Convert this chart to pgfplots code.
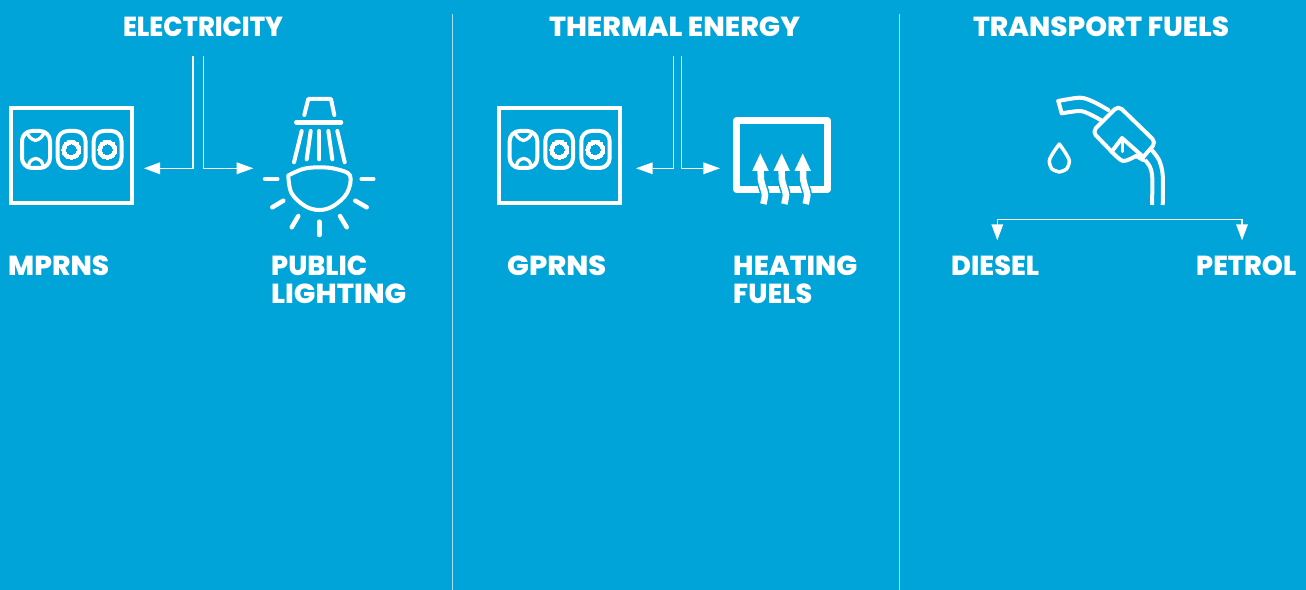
\documentclass[border=0pt]{standalone}
\usepackage{pgfplots}
\pgfplotsset{compat=1.18}
\usepackage{graphicx}
\usepackage{fontspec}
\setmainfont{Poppins}[BoldFont={Poppins ExtraBold}]
\definecolor{bg}{HTML}{00A4D8}
\definecolor{rule}{HTML}{A6DDF0}
\pgfplotsset{
  ln/.style={white,line width=#1,no markers,line cap=round,line join=round},
  ln/.default=4bp,
  hair/.style={white,line width=1.2bp,no markers,line cap=butt,line join=miter},
  solid fill/.style={fill=white,draw=none,no markers}
}
\newcommand{\lab}[4]{\node[anchor=base west,inner sep=0pt,text=white,font=\fontsize{27.5bp}{27.5bp}\selectfont\bfseries] at (axis cs:#1,#2) {\resizebox{#3bp}{\height}{#4}};}
\newcommand{\tit}[4]{\node[anchor=base,inner sep=0pt,text=white,font=\fontsize{27.5bp}{27.5bp}\selectfont\bfseries] at (axis cs:#1,#2) {\resizebox{#3bp}{\height}{#4}};}
\begin{document}
\begin{tikzpicture}
\begin{axis}[
  hide axis, scale only axis, width=1306bp, height=590bp,
  xmin=0, xmax=1306, ymin=0, ymax=590, y dir=reverse]
% background
\addplot[fill=bg,draw=none,no markers] coordinates {(0,0)(1306,0)(1306,590)(0,590)} -- cycle;
% dividers
\addplot[rule,line width=1bp,no markers] coordinates {(452.5,14)(452.5,590)};
\addplot[rule,line width=1bp,no markers] coordinates {(899.5,14)(899.5,590)};
% --- outlet 1
\addplot[white,line width=4bp,no markers,line join=miter] coordinates {(11,108.5)(132,108.5)(132,203)(11,203)} -- cycle;
\addplot[ln=4bp,rounded corners=10bp] coordinates {(22,131)(50,131)(50,168)(22,168)} -- cycle;
\addplot[ln=4bp,rounded corners=10bp] coordinates {(57.7,131)(85.5,131)(85.5,168)(57.7,168)} -- cycle;
\addplot[ln=4bp,rounded corners=10bp] coordinates {(93.7,131)(121.5,131)(121.5,168)(93.7,168)} -- cycle;
\addplot[white,only marks,mark=*,mark size=9.5bp,mark options={fill=white,draw=white,line width=0pt}] coordinates {(71.3,149.7)(107.3,149.7)};
\addplot[bg,only marks,mark=*,mark size=5bp,mark options={fill=bg,draw=bg,line width=0pt}] coordinates {(71.3,149.7)(107.3,149.7)};
\addplot[ln=3.3bp,smooth] coordinates {(27,133)(30,137.5)(35.5,140.5)(41,137.5)(44,133)};
\addplot[ln=3.3bp,smooth] coordinates {(28,167)(30.5,161)(35.7,158.5)(41,161)(43.5,167)};
% arrows 1
\addplot[hair] coordinates {(193,56)(193,168.3)(160,168.3)};
\addplot[solid fill] coordinates {(144,168.3)(160,162.3)(160,174.3)} -- cycle;
\addplot[hair] coordinates {(203.7,56)(203.7,168.3)(237,168.3)};
\addplot[solid fill] coordinates {(253.3,168.3)(236.7,162.3)(236.7,174.3)} -- cycle;
% --- bulb
\addplot[ln=4bp] coordinates {(304.3,115)(308.3,99)(331,99)(334.3,115)};
\addplot[ln=4.5bp] coordinates {(296.3,122.3)(341,122.3)};
\addplot[ln=4bp] coordinates {(301.7,131)(294,162.3)};
\addplot[ln=4bp] coordinates {(310.7,131)(306.7,159.3)};
\addplot[ln=4bp] coordinates {(319.3,131)(319.3,159.3)};
\addplot[ln=4bp] coordinates {(328.3,131)(332.3,159.3)};
\addplot[ln=4bp] coordinates {(337.3,131)(344.7,162.3)};
\addplot[ln=4bp,smooth,tension=0.6] coordinates {(288.3,175.5)(303,169)(319.3,167.3)(336,169)(350,175.5)(347,193)(333.3,206)(319.3,210)(305,206)(291.5,193)(288.3,175.5)};
\addplot[ln=4.5bp] coordinates {(265,179)(277.3,179)};
\addplot[ln=4.5bp] coordinates {(361.7,179)(373.3,179)};
\addplot[ln=4.5bp] coordinates {(272.3,207.3)(283.3,200.7)};
\addplot[ln=4.5bp] coordinates {(355.3,200.7)(366.7,207.3)};
\addplot[ln=4.5bp] coordinates {(291.7,227.3)(298.3,216)};
\addplot[ln=4.5bp] coordinates {(340,216)(346.7,227.3)};
\addplot[ln=4.5bp] coordinates {(319.3,221.7)(319.3,235)};
% --- outlet 2
\addplot[white,line width=4bp,no markers,line join=miter] coordinates {(498.7,108.5)(619.7,108.5)(619.7,203)(498.7,203)} -- cycle;
\addplot[ln=4bp,rounded corners=10bp] coordinates {(509.7,131)(537.3,131)(537.3,168)(509.7,168)} -- cycle;
\addplot[ln=4bp,rounded corners=10bp] coordinates {(545.3,131)(573,131)(573,168)(545.3,168)} -- cycle;
\addplot[ln=4bp,rounded corners=10bp] coordinates {(581.3,131)(609.7,131)(609.7,168)(581.3,168)} -- cycle;
\addplot[white,only marks,mark=*,mark size=9.5bp,mark options={fill=white,draw=white,line width=0pt}] coordinates {(559.3,149.7)(595.3,149.7)};
\addplot[bg,only marks,mark=*,mark size=5bp,mark options={fill=bg,draw=bg,line width=0pt}] coordinates {(559.3,149.7)(595.3,149.7)};
\addplot[ln=3.3bp,smooth] coordinates {(515,133)(518,137.5)(523.5,140.5)(529,137.5)(532,133)};
\addplot[ln=3.3bp,smooth] coordinates {(516,167)(518.5,161)(523.7,158.5)(529,161)(531.5,167)};
% arrows 2
\addplot[hair] coordinates {(673.7,56)(673.7,168.3)(652.7,168.3)};
\addplot[solid fill] coordinates {(636,168.3)(652.7,162.3)(652.7,174.3)} -- cycle;
\addplot[hair] coordinates {(681.7,56)(681.7,168.3)(703.3,168.3)};
\addplot[solid fill] coordinates {(720,168.3)(703.3,162.3)(703.3,174.3)} -- cycle;
% --- radiator
\addplot[white,line width=6.5bp,no markers,line join=round] coordinates {(736.5,120.5)(827.5,120.5)(827.5,189.5)(736.5,189.5)} -- cycle;
\addplot[bg,line width=9.5bp,no markers,smooth] coordinates {(760.7,172)(761,180)(763.3,188.3)(765,195)(763.3,204)};
\addplot[bg,line width=9.5bp,no markers,smooth] coordinates {(781.7,172)(782,180)(784.3,188.3)(786,195)(784.3,204)};
\addplot[bg,line width=9.5bp,no markers,smooth] coordinates {(803,172)(803.3,180)(805.6,188.3)(807.3,195)(805.6,204)};
\addplot[white,line width=6.5bp,no markers,smooth] coordinates {(760.7,168)(761,180)(763.3,188.3)(765,195)(763.3,204)};
\addplot[white,line width=6.5bp,no markers,smooth] coordinates {(781.7,168)(782,180)(784.3,188.3)(786,195)(784.3,204)};
\addplot[white,line width=6.5bp,no markers,smooth] coordinates {(803,168)(803.3,180)(805.6,188.3)(807.3,195)(805.6,204)};
\addplot[solid fill] coordinates {(760.3,153.5)(768.8,171)(752.2,171)} -- cycle;
\addplot[solid fill] coordinates {(781.7,153.5)(790,171)(773.4,171)} -- cycle;
\addplot[solid fill] coordinates {(802.7,153.5)(811,171)(794.4,171)} -- cycle;
% --- pump
\addplot[ln=4bp,smooth,tension=0.5] coordinates {(1058.3,101)(1080,97.7)(1093.3,101.7)(1108.3,110)};
\addplot[ln=4bp,smooth,tension=0.5] coordinates {(1061.7,113.3)(1080,111)(1090,114.3)(1100.7,120)};
\addplot[ln=4bp] coordinates {(1058.3,101)(1061.7,113.3)};
\addplot[ln=4bp,rounded corners=5bp] coordinates {(1111.7,151.7)(1092.3,131.7)(1118.3,105.7)(1156,142.3)(1143.3,157)};
\addplot[ln=4bp] coordinates {(1143.3,157)(1122,138)(1111.7,151.7)};
\addplot[ln=4bp,smooth] coordinates {(1111.7,151.7)(1123,161)(1136,156)};
\addplot[ln=4bp] coordinates {(1136,156)(1143.3,160)};
\addplot[ln=3.5bp] coordinates {(1122.3,142)(1122.3,151.5)};
\addplot[ln=4bp,smooth,line cap=butt] coordinates {(1151.7,150)(1159,160)(1162.7,175)(1162.7,205)};
\addplot[ln=4bp,smooth,line cap=butt] coordinates {(1145,160)(1150,167)(1152.3,178)(1152,205)};
\addplot[ln=3.5bp,smooth] coordinates {(1059.3,144)(1053,153)(1049.3,161)(1052,169)(1059.3,172)};
\addplot[ln=3.5bp,smooth] coordinates {(1059.3,144)(1065.5,153)(1069.3,161)(1066.5,169)(1059.3,172)};
% bracket
\addplot[hair] coordinates {(997.3,225)(997.3,219.7)(1242,219.7)(1242,225)};
\addplot[solid fill] coordinates {(991.3,224.3)(1003.3,224.3)(997.3,240.3)} -- cycle;
\addplot[solid fill] coordinates {(1236,224.3)(1248,224.3)(1242,240.3)} -- cycle;
% text
\tit{203}{37}{160}{ELECTRICITY}
\tit{674.5}{37}{251}{THERMAL ENERGY}
\tit{1101}{37}{256}{TRANSPORT FUELS}
\lab{8}{275}{101}{MPRNS}
\lab{271}{275}{96}{PUBLIC}
\lab{271}{303.5}{135}{LIGHTING}
\lab{507}{275}{99}{GPRNS}
\lab{733}{275}{124}{HEATING}
\lab{733}{303.5}{79}{FUELS}
\lab{951}{275}{88}{DIESEL}
\lab{1196}{275}{100}{PETROL}
\end{axis}
\end{tikzpicture}
\end{document}
